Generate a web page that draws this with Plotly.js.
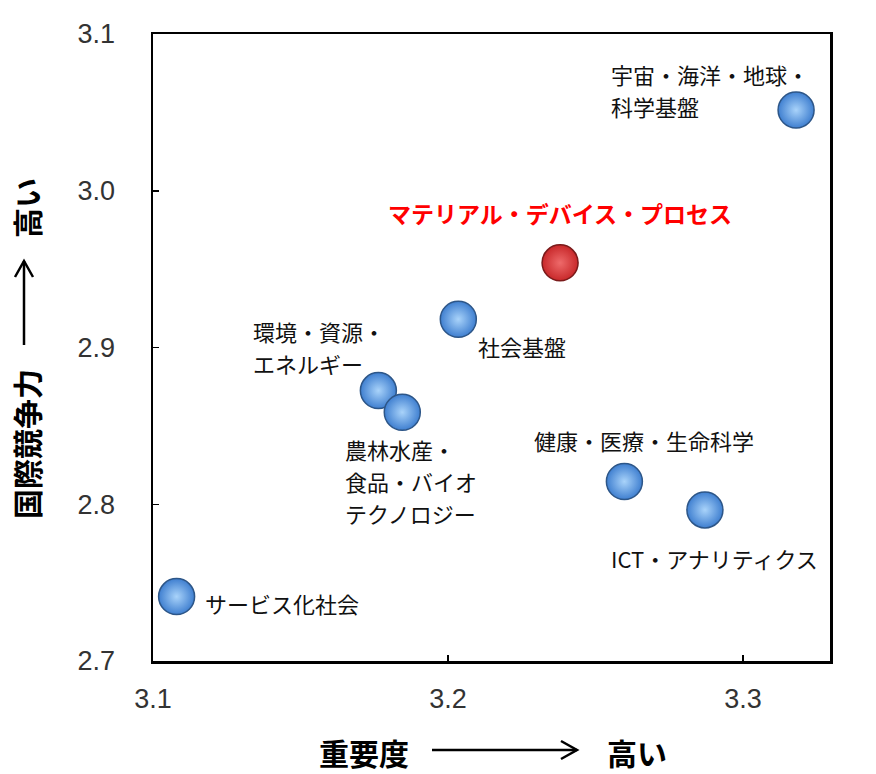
<!DOCTYPE html>
<html><head><meta charset="utf-8">
<script src="https://cdn.plot.ly/plotly-3.0.1.min.js"></script>
<style>body{margin:0;background:#fff}</style>
</head><body>
<div id="chart" style="width:876px;height:774px"></div>
<script>
// Data
const fields = ["宇宙・海洋・地球・<br>科学基盤","マテリアル・デバイス・プロセス","社会基盤","環境・資源・<br>エネルギー","農林水産・<br>食品・バイオ<br>テクノロジー","健康・医療・生命科学","ICT・アナリティクス","サービス化社会"];
const importance = [3.318, 3.238, 3.2035, 3.1764, 3.1845, 3.2598, 3.2871, 3.108];
const competitiveness = [3.0515, 2.954, 2.918, 2.8725, 2.8587, 2.8145, 2.7964, 2.7411];
const highlight = [false, true, false, false, false, false, false, false];
const xTicks = [3.1, 3.2, 3.3];
const yTicks = [2.7, 2.8, 2.9, 3.0, 3.1];

// label placement (px offsets from point to label block centre line)
const labelPos = [
  {xs:-187, ys:20, xa:'left'},
  {xs:0, ys:50, xa:'center'},
  {xs:18, ys:-27, xa:'left'},
  {xs:-127, ys:44, xa:'left'},
  {xs:-59, ys:-69, xa:'left'},
  {xs:20, ys:42, xa:'center'},
  {xs:10, ys:-48, xa:'center'},
  {xs:26, ys:-6, xa:'left'}
];

const jp = '"Noto Sans CJK JP", "Noto Sans", sans-serif';
const lineGap = 32;

const trace = {
  type:'scatter', mode:'markers',
  x: importance, y: competitiveness,
  marker:{
    size: 36,
    color: highlight.map(h => h ? '#c8282a' : '#3f7fd0'),
    gradient:{type:'radial', color: highlight.map(h => h ? '#ee6a6a' : '#a9d3fa')},
    line:{color: highlight.map(h => h ? '#7a1a1a' : '#2d5688'), width:1.5}
  },
  hoverinfo:'skip'
};

const annotations = [];
fields.forEach((f,i) => {
  const lines = f.split('<br>');
  const n = lines.length;
  lines.forEach((ln, k) => {
    annotations.push({
      x: importance[i], y: competitiveness[i], xref:'x', yref:'y',
      text: ln, showarrow:false,
      xanchor: labelPos[i].xa, yanchor:'middle', align:'left',
      xshift: labelPos[i].xs,
      yshift: labelPos[i].ys + ((n-1)/2 - k) * lineGap,
      font: highlight[i] ? {family: jp, size:23, color:'#ff0000', weight:700} : {family: jp, size:22, color:'#111'}
    });
  });
});

// axis titles
const titleFont = {family:jp, size:30, color:'#000', weight:700};
annotations.push({xref:'paper', yref:'paper', x:(364-153)/677, y:(661-752)/627, text:'重要度', showarrow:false, xanchor:'center', yanchor:'middle', font:titleFont});
annotations.push({xref:'paper', yref:'paper', x:(637-153)/677, y:(661-752)/627, text:'高い', showarrow:false, xanchor:'center', yanchor:'middle', font:titleFont});
annotations.push({xref:'paper', yref:'paper', x:(26-153)/677, y:(661-444)/627, text:'国際競争力', showarrow:false, textangle:-90, xanchor:'center', yanchor:'middle', font:titleFont});
annotations.push({xref:'paper', yref:'paper', x:(26-153)/677, y:(661-208)/627, text:'高い', showarrow:false, textangle:-90, xanchor:'center', yanchor:'middle', font:titleFont});

const px = v => (v-153)/677, py = v => (661-v)/627;
const shapes = [
  // x arrow
  {type:'line', xref:'paper', yref:'paper', x0:px(432), x1:px(577), y0:py(750), y1:py(750), line:{color:'#000', width:2.5}},
  {type:'path', xref:'paper', yref:'paper', path:`M ${px(561)} ${py(741)} L ${px(577)} ${py(750)} L ${px(561)} ${py(759)}`, line:{color:'#000', width:2.5}},
  // y arrow
  {type:'line', xref:'paper', yref:'paper', x0:px(24), x1:px(24), y0:py(345), y1:py(261), line:{color:'#000', width:2.5}},
  {type:'path', xref:'paper', yref:'paper', path:`M ${px(15)} ${py(277)} L ${px(24)} ${py(261)} L ${px(33)} ${py(277)}`, line:{color:'#000', width:2.5}}
];

const tickFont = {family:'"Liberation Sans", Arial, sans-serif', size:27, color:'#333'};
const layout = {
  width:876, height:774,
  margin:{l:153, r:46, t:34, b:113},
  paper_bgcolor:'#fff', plot_bgcolor:'#fff',
  showlegend:false,
  xaxis:{range:[3.1, 3.3295], tickvals:xTicks, ticktext:xTicks.map(v=>v.toFixed(1)),
    showgrid:false, zeroline:false, showline:true, mirror:true, linecolor:'#000', linewidth:2.5,
    ticks:'inside', ticklen:6, tickcolor:'#000', tickwidth:1.5, ticklabelstandoff:12,
    tickfont:tickFont},
  yaxis:{range:[2.7, 3.1], tickvals:yTicks, ticktext:yTicks.map(v=>v.toFixed(1)),
    showgrid:false, zeroline:false, showline:true, mirror:true, linecolor:'#000', linewidth:2.5,
    ticks:'inside', ticklen:6, tickcolor:'#000', tickwidth:1.5, ticklabelstandoff:30,
    tickfont:tickFont},
  annotations: annotations,
  shapes: shapes
};

Plotly.newPlot('chart', [trace], layout, {displayModeBar:false, staticPlot:true});
</script>
</body></html>
